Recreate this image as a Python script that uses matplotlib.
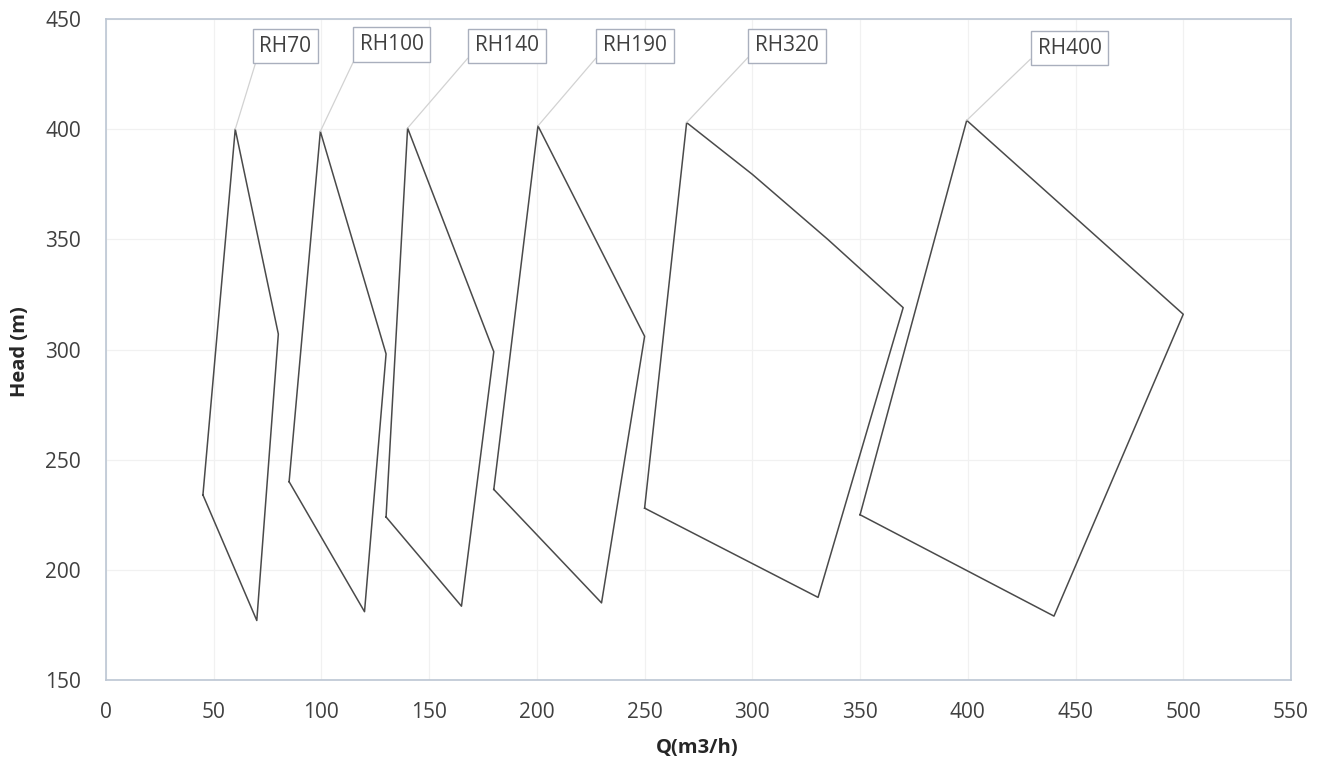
import matplotlib
matplotlib.use("Agg")
import matplotlib.pyplot as plt

plt.rcParams['font.family'] = ['Open Sans', 'DejaVu Sans']

# Operating envelopes (left -> top -> ... -> right -> bottom), Q in m3/h, Head in m
models = ["RH70", "RH100", "RH140", "RH190", "RH320", "RH400"]
q_rh70 = [45, 60, 80, 70]
h_rh70 = [234, 400, 307, 177]
q_rh100 = [85, 99.5, 130, 120]
h_rh100 = [240, 399, 298, 181]
q_rh140 = [130, 140, 180, 165]
h_rh140 = [224, 400.5, 299, 183.5]
q_rh190 = [180, 200.5, 250, 230]
h_rh190 = [236.5, 401.5, 306, 185]
q_rh320 = [250, 269.5, 300, 335, 370, 330.5]
h_rh320 = [228, 403, 379.5, 350, 319, 187.5]
q_rh400 = [350, 399.5, 500, 440]
h_rh400 = [225, 404, 316, 179]

qs = [q_rh70, q_rh100, q_rh140, q_rh190, q_rh320, q_rh400]
hs = [h_rh70, h_rh100, h_rh140, h_rh190, h_rh320, h_rh400]

# label positions (data coords)
label_q = [83.3, 132.5, 186.1, 245.5, 316.1, 447.2]
label_h = [437.7, 438.4, 437.9, 437.9, 437.9, 436.8]

x_ticks = list(range(0, 551, 50))
y_ticks = list(range(150, 451, 50))

fig = plt.figure(figsize=(13.23, 7.58), dpi=100)
ax = fig.add_axes([0.0801, 0.1029, 0.8957, 0.872])

text_col = '#404040'
line_col = '#4a4a4a'

for q, h in zip(qs, hs):
    ax.plot(q + [q[0]], h + [h[0]], color=line_col, lw=1.1, zorder=3)

for name, q, h, lq, lh in zip(models, qs, hs, label_q, label_h):
    ax.annotate(name, xy=(q[1], h[1]), xytext=(lq, lh),
                ha='center', va='center', fontsize=15, color=text_col,
                bbox=dict(boxstyle='square,pad=0.32', fc='white', ec='#a9afbd', lw=1.0),
                arrowprops=dict(arrowstyle='-', color='#d2d2d2', lw=0.9,
                                shrinkA=0, shrinkB=0, relpos=(0.0, 0.3)),
                zorder=4)

ax.set_xlim(0, 550)
ax.set_ylim(150, 450)
ax.set_xticks(x_ticks)
ax.set_yticks(y_ticks)
ax.tick_params(length=0, labelsize=15, colors=text_col)
ax.tick_params(axis='x', pad=16)
ax.tick_params(axis='y', pad=18)
ax.grid(True, color='#f1f1f1', lw=0.9, zorder=0)
for s in ax.spines.values():
    s.set_color('#bcc6d3')
    s.set_linewidth(1.2)

fig.text(697 / 1323, 1 - 748 / 758, 'Q(m3/h)', fontsize=14.5, fontweight='bold',
         color='#262626', ha='center', va='center')
fig.text(20 / 1323, 1 - 352 / 758, 'Head (m)', fontsize=14.5, fontweight='bold',
         color='#262626', ha='center', va='center', rotation=90)

fig.savefig('out.png', dpi=100)
